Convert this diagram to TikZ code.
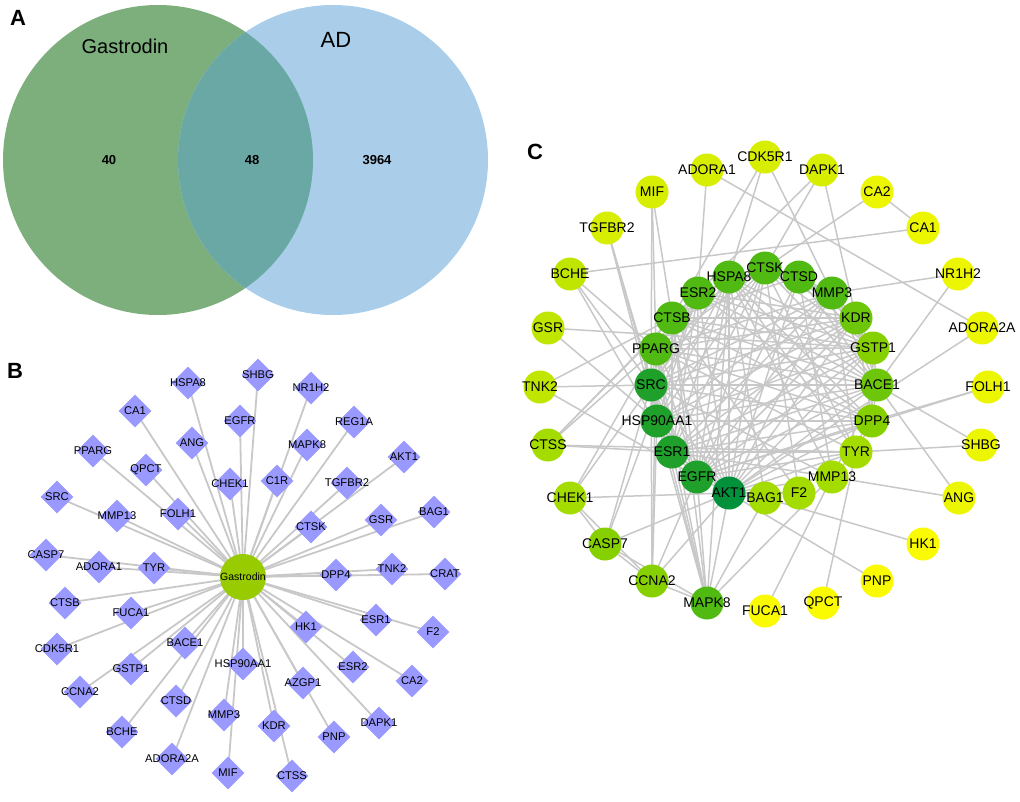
\documentclass[tikz,border=0pt]{standalone}
\usepackage{fontspec}
\setmainfont{Liberation Sans}
\usetikzlibrary{shapes.geometric,backgrounds}
\definecolor{vgreen}{RGB}{124,175,124}
\definecolor{vblue}{RGB}{170,206,233}
\definecolor{vover}{RGB}{106,168,166}
\definecolor{edgec}{RGB}{200,200,200}
\definecolor{diac}{RGB}{153,153,255}
\definecolor{gasc}{RGB}{153,204,0}
\definecolor{cA}{RGB}{0,145,58}
\definecolor{cB}{RGB}{30,160,42}
\definecolor{cC}{RGB}{80,185,18}
\definecolor{cD}{RGB}{110,198,10}
\definecolor{cE}{RGB}{135,208,0}
\definecolor{cF}{RGB}{165,220,0}
\definecolor{cG}{RGB}{192,230,0}
\definecolor{cH}{RGB}{215,238,0}
\definecolor{cI}{RGB}{236,246,0}
\definecolor{cJ}{RGB}{250,250,0}
\tikzset{
  dia/.style={shape=diamond,fill=diac,draw=none,minimum width=33pt,minimum height=33pt,inner sep=0pt},
  btxt/.style={font=\fontsize{11.2}{13}\selectfont,text=black,inner sep=0pt},
  cn/.style={shape=circle,draw=none,minimum size=33pt,inner sep=0pt},
  ctxt/.style={font=\fontsize{14}{16}\selectfont,text=black,inner sep=0pt},
  bedge/.style={draw=edgec,line width=1.8pt},
  cedge/.style={draw=edgec,line width=1.5pt},
  panel/.style={font=\fontsize{22}{24}\selectfont\bfseries,inner sep=0pt},
  vnum/.style={font=\fontsize{13}{15}\selectfont\bfseries,inner sep=0pt},
  vlab/.style={font=\fontsize{20}{22}\selectfont,inner sep=0pt}
}
\newcommand\bdia[4]{\node[dia,label={[btxt]center:#4}] (#1) at (#2,#3) {};}
\newcommand\cnd[5]{\node[cn,fill=#4,label={[ctxt]center:#5}] (#1) at (#2,#3) {};}
\begin{document}
\begin{tikzpicture}[x=1pt,y=-1pt]
\useasboundingbox (0,0) rectangle (1020,801);
% ---------- Panel A : Venn ----------
\fill[vgreen] (158,160) circle[radius=155pt];
\fill[vblue] (333,160) circle[radius=155pt];
\begin{scope}
\clip (158,160) circle[radius=155pt];
\fill[vover] (333,160) circle[radius=155pt];
\end{scope}
\node[panel] (pA) at (18,18) {A};
\node[vlab] (vg) at (125,46) {Gastrodin};
\node[vlab,font=\fontsize{22}{24}\selectfont] (vad) at (336,40) {AD};
\node[vnum] (n40) at (109,160) {40};
\node[vnum] (n48) at (252,160) {48};
\node[vnum] (n3964) at (377,160) {3964};
% ---------- Panel B ----------
\node[panel] (pB) at (15,371) {B};
\node[shape=circle,fill=gasc,draw=none,minimum size=46pt,inner sep=0pt,font=\fontsize{10.5}{12}\selectfont] (gas) at (243,577) {Gastrodin};
\bdia{bHSPA8}{188}{383}{HSPA8}
\bdia{bCA1}{135}{411}{CA1}
\bdia{bEGFR}{240}{421}{EGFR}
\bdia{bANG}{192}{443}{ANG}
\bdia{bPPARG}{93}{451}{PPARG}
\bdia{bQPCT}{146}{470}{QPCT}
\bdia{bCHEK1}{230}{484}{CHEK1}
\bdia{bSRC}{57}{497}{SRC}
\bdia{bMMP13}{117}{516}{MMP13}
\bdia{bFOLH1}{178}{514}{FOLH1}
\bdia{bCASP7}{46}{555}{CASP7}
\bdia{bADORA1}{99}{567}{ADORA1}
\bdia{bTYR}{154}{568}{TYR}
\bdia{bSHBG}{258}{375}{SHBG}
\bdia{bNR1H2}{311}{388}{NR1H2}
\bdia{bREG1A}{354}{422}{REG1A}
\bdia{bMAPK8}{307}{445}{MAPK8}
\bdia{bAKT1}{404}{457}{AKT1}
\bdia{bC1R}{277}{481}{C1R}
\bdia{bTGFBR2}{347}{483}{TGFBR2}
\bdia{bCTSK}{311}{527}{CTSK}
\bdia{bGSR}{381}{520}{GSR}
\bdia{bBAG1}{434}{512}{BAG1}
\bdia{bDPP4}{336}{575}{DPP4}
\bdia{bTNK2}{392}{569}{TNK2}
\bdia{bCRAT}{445}{574}{CRAT}
\bdia{bCTSB}{65}{603}{CTSB}
\bdia{bFUCA1}{131}{613}{FUCA1}
\bdia{bCDK5R1}{57}{649}{CDK5R1}
\bdia{bBACE1}{185}{643}{BACE1}
\bdia{bGSTP1}{131}{669}{GSTP1}
\bdia{bCCNA2}{80}{692}{CCNA2}
\bdia{bHSP90AA1}{243}{664}{HSP90AA1}
\bdia{bCTSD}{176}{701}{CTSD}
\bdia{bMMP3}{224}{715}{MMP3}
\bdia{bBCHE}{122}{732}{BCHE}
\bdia{bADORA2A}{172}{759}{ADORA2A}
\bdia{bMIF}{228}{773}{MIF}
\bdia{bHK1}{306}{627}{HK1}
\bdia{bESR1}{376}{620}{ESR1}
\bdia{bF2}{433}{632}{F2}
\bdia{bESR2}{353}{667}{ESR2}
\bdia{bAZGP1}{303}{683}{AZGP1}
\bdia{bCA2}{412}{681}{CA2}
\bdia{bKDR}{274}{726}{KDR}
\bdia{bPNP}{334}{737}{PNP}
\bdia{bDAPK1}{379}{723}{DAPK1}
\bdia{bCTSS}{292}{776}{CTSS}
\begin{scope}[on background layer]
\foreach \n in {HSPA8,CA1,EGFR,ANG,PPARG,QPCT,CHEK1,SRC,MMP13,FOLH1,CASP7,ADORA1,TYR,SHBG,NR1H2,REG1A,MAPK8,AKT1,C1R,TGFBR2,CTSK,GSR,BAG1,DPP4,TNK2,CRAT,CTSB,FUCA1,CDK5R1,BACE1,GSTP1,CCNA2,HSP90AA1,CTSD,MMP3,BCHE,ADORA2A,MIF,HK1,ESR1,F2,ESR2,AZGP1,CA2,KDR,PNP,DAPK1,CTSS}
  \draw[bedge] (gas.center) -- (b\n.center);
\end{scope}
% ---------- Panel C ----------
\node[panel] (pC) at (535,152) {C};
% outer ring
\cnd{cADORA1}{707}{170}{cH}{ADORA1}
\cnd{cCDK5R1}{765}{157}{cH}{CDK5R1}
\cnd{cDAPK1}{822}{170}{cH}{DAPK1}
\cnd{cCA2}{877}{192}{cI}{CA2}
\cnd{cCA1}{923}{228}{cI}{CA1}
\cnd{cNR1H2}{958}{274}{cI}{NR1H2}
\cnd{cADORA2A}{982}{328}{cI}{ADORA2A}
\cnd{cFOLH1}{988}{387}{cI}{FOLH1}
\cnd{cSHBG}{981}{445}{cI}{SHBG}
\cnd{cANG}{959}{498}{cI}{ANG}
\cnd{cHK1}{923}{544}{cJ}{HK1}
\cnd{cPNP}{877}{581}{cJ}{PNP}
\cnd{cQPCT}{823}{603}{cJ}{QPCT}
\cnd{cFUCA1}{765}{611}{cJ}{FUCA1}
\cnd{cMAPK8}{707}{603}{cC}{MAPK8}
\cnd{cCCNA2}{652}{581}{cE}{CCNA2}
\cnd{cCASP7}{605}{544}{cE}{CASP7}
\cnd{cCHEK1}{570}{498}{cF}{CHEK1}
\cnd{cCTSS}{548}{445}{cF}{CTSS}
\cnd{cTNK2}{540}{387}{cG}{TNK2}
\cnd{cGSR}{548}{328}{cG}{GSR}
\cnd{cBCHE}{570}{274}{cG}{BCHE}
\cnd{cTGFBR2}{607}{228}{cH}{TGFBR2}
\cnd{cMIF}{652}{192}{cH}{MIF}
% inner ring
\cnd{cHSPA8}{729}{277}{cC}{HSPA8}
\cnd{cCTSK}{765}{268}{cC}{CTSK}
\cnd{cCTSD}{799}{277}{cC}{CTSD}
\cnd{cMMP3}{832}{293}{cC}{MMP3}
\cnd{cKDR}{856}{318}{cD}{KDR}
\cnd{cGSTP1}{873}{348}{cE}{GSTP1}
\cnd{cBACE1}{877}{385}{cD}{BACE1}
\cnd{cDPP4}{872}{421}{cE}{DPP4}
\cnd{cTYR}{856}{452}{cF}{TYR}
\cnd{cMMP13}{832}{477}{cF}{MMP13}
\cnd{cF2}{799}{493}{cF}{F2}
\cnd{cBAG1}{765}{498}{cF}{BAG1}
\cnd{cAKT1}{729}{493}{cA}{AKT1}
\cnd{cEGFR}{697}{477}{cB}{EGFR}
\cnd{cESR1}{672}{452}{cB}{ESR1}
\cnd{cHSP90AA1}{657}{421}{cB}{HSP90AA1}
\cnd{cSRC}{651}{385}{cB}{SRC}
\cnd{cPPARG}{656}{349}{cC}{PPARG}
\cnd{cCTSB}{672}{318}{cC}{CTSB}
\cnd{cESR2}{698}{293}{cC}{ESR2}
\begin{scope}[on background layer]
\foreach \a/\b in {MIF/CTSB,MIF/PPARG,MIF/SRC,
  TGFBR2/SRC,TGFBR2/HSP90AA1,TGFBR2/ESR1,
  BCHE/CA1,BCHE/PPARG,BCHE/SRC,BCHE/ESR1,
  GSR/GSTP1,GSR/HSP90AA1,
  TNK2/SRC,TNK2/EGFR,TNK2/CTSB,
  CTSS/TYR,CTSS/PPARG,CTSS/CTSB,CTSS/ESR2,CTSS/ESR1,
  CHEK1/AKT1,CHEK1/CASP7,CHEK1/PPARG,CHEK1/HSPA8,CHEK1/CCNA2,
  CASP7/CCNA2,CASP7/AKT1,CASP7/SRC,CASP7/ESR2,CASP7/MAPK8,
  CCNA2/MAPK8,CCNA2/AKT1,CCNA2/SRC,CCNA2/HSP90AA1,CCNA2/PPARG,CCNA2/EGFR,
  MAPK8/AKT1,MAPK8/EGFR,MAPK8/ESR1,MAPK8/HSP90AA1,MAPK8/SRC,MAPK8/PPARG,MAPK8/CTSB,MAPK8/BAG1,MAPK8/TYR,MAPK8/HSPA8,
  FUCA1/MMP13,QPCT/TYR,PNP/AKT1,HK1/BAG1,ANG/MMP13,ANG/BACE1,SHBG/TYR,SHBG/BACE1,
  FOLH1/DPP4,FOLH1/EGFR,ADORA2A/ADORA1,ADORA2A/AKT1,NR1H2/MMP3,NR1H2/BACE1,
  CA1/CA2,CA2/CTSK,DAPK1/KDR,DAPK1/CTSK,DAPK1/CTSB,CDK5R1/HSPA8,CDK5R1/CTSB,CDK5R1/MMP3,ADORA1/ESR2,
  AKT1/HSPA8,AKT1/CTSK,AKT1/CTSD,AKT1/MMP3,AKT1/KDR,AKT1/GSTP1,AKT1/BACE1,AKT1/DPP4,AKT1/TYR,AKT1/MMP13,AKT1/F2,AKT1/BAG1,AKT1/EGFR,AKT1/ESR1,AKT1/HSP90AA1,AKT1/SRC,AKT1/PPARG,AKT1/CTSB,AKT1/ESR2,
  EGFR/HSPA8,EGFR/CTSK,EGFR/CTSD,EGFR/MMP3,EGFR/KDR,EGFR/GSTP1,EGFR/BACE1,EGFR/DPP4,EGFR/TYR,EGFR/SRC,EGFR/PPARG,EGFR/ESR1,EGFR/HSP90AA1,EGFR/ESR2,EGFR/CTSB,
  ESR1/HSPA8,ESR1/CTSK,ESR1/MMP3,ESR1/KDR,ESR1/GSTP1,ESR1/BACE1,ESR1/DPP4,ESR1/TYR,ESR1/MMP13,ESR1/ESR2,ESR1/PPARG,ESR1/HSP90AA1,ESR1/SRC,ESR1/CTSB,
  HSP90AA1/HSPA8,HSP90AA1/CTSK,HSP90AA1/KDR,HSP90AA1/GSTP1,HSP90AA1/BACE1,HSP90AA1/DPP4,HSP90AA1/SRC,HSP90AA1/PPARG,HSP90AA1/ESR2,HSP90AA1/MMP3,
  SRC/KDR,SRC/CTSK,SRC/DPP4,SRC/GSTP1,SRC/BACE1,SRC/HSPA8,SRC/ESR2,SRC/CTSB,SRC/PPARG,SRC/MMP3,SRC/MMP13,
  PPARG/CTSK,PPARG/MMP3,PPARG/GSTP1,PPARG/BACE1,PPARG/TYR,PPARG/DPP4,PPARG/ESR2,PPARG/CTSB,PPARG/KDR,
  CTSB/CTSK,CTSB/CTSD,CTSB/HSPA8,CTSB/BACE1,CTSB/GSTP1,CTSB/KDR,CTSB/DPP4,CTSB/F2,
  ESR2/CTSK,ESR2/KDR,ESR2/GSTP1,ESR2/BACE1,ESR2/DPP4,
  HSPA8/BACE1,HSPA8/GSTP1,HSPA8/DPP4,HSPA8/TYR,HSPA8/MMP13,HSPA8/BAG1,
  CTSK/CTSD,CTSK/MMP3,CTSK/KDR,CTSK/BACE1,CTSK/GSTP1,CTSK/F2,CTSK/TYR,
  CTSD/MMP3,CTSD/BACE1,CTSD/KDR,CTSD/GSTP1,CTSD/MMP13,
  MMP3/KDR,MMP3/GSTP1,MMP3/BACE1,MMP3/TYR,
  KDR/GSTP1,KDR/BACE1,KDR/DPP4,GSTP1/BACE1,GSTP1/DPP4,BACE1/DPP4,BACE1/TYR,BACE1/MMP13,DPP4/TYR}
  \draw[cedge] (c\a.center) -- (c\b.center);
\end{scope}
\end{tikzpicture}
\end{document}
